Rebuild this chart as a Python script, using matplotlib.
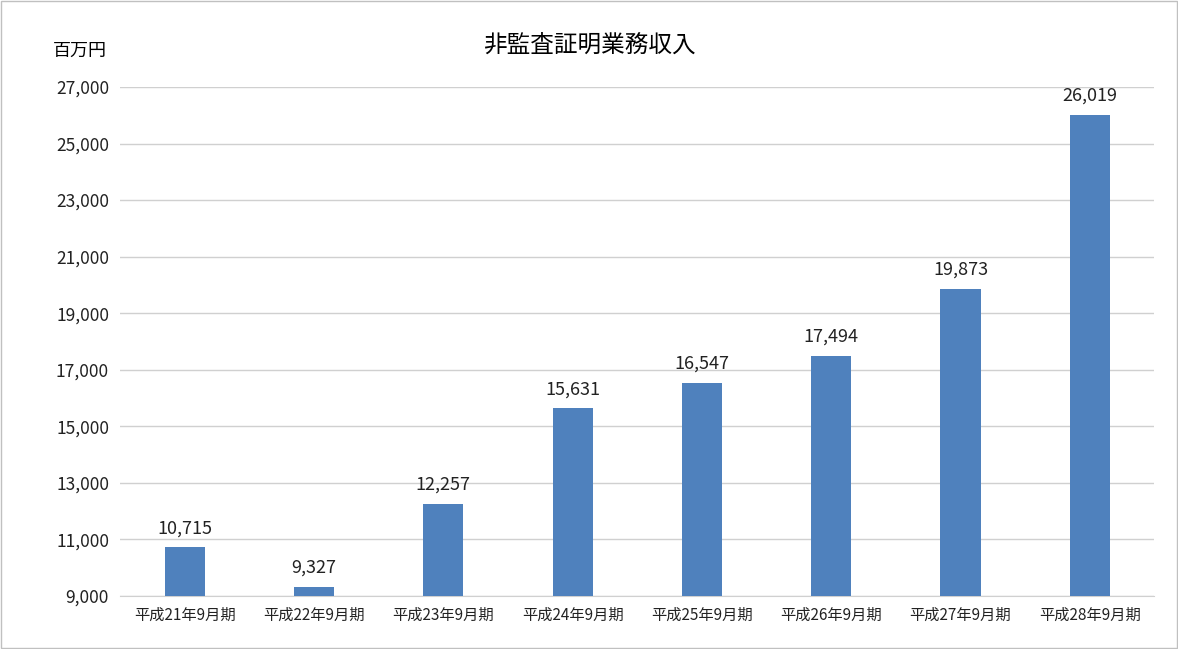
import matplotlib
matplotlib.use("Agg")
import matplotlib.pyplot as plt
from matplotlib.patches import Rectangle

plt.rcParams['font.family'] = ['Noto Sans CJK JP', 'DejaVu Sans']

categories = ["平成21年9月期", "平成22年9月期", "平成23年9月期", "平成24年9月期",
              "平成25年9月期", "平成26年9月期", "平成27年9月期", "平成28年9月期"]
values = [10715, 9327, 12257, 15631, 16547, 17494, 19873, 26019]
yticks = list(range(9000, 27001, 2000))

fig = plt.figure(figsize=(11.78, 6.49), dpi=100)
ax = fig.add_axes([0.102, 0.0817, 0.878, 0.7843])
x = range(len(categories))
ax.bar(x, values, width=0.31, color="#4F81BD", zorder=3)
for xi, v in zip(x, values):
    ax.text(xi, v + 350, f"{v:,}", ha="center", va="bottom", fontsize=13, color="#222222")
ax.set_ylim(9000, 27000)
ax.set_xlim(-0.5, len(categories) - 0.5)
ax.set_yticks(yticks)
ax.set_yticklabels([f"{t:,}" for t in yticks], fontsize=12.5)
ax.set_xticks(list(x))
ax.set_xticklabels(categories, fontsize=11)
ax.grid(axis="y", color="#d0d0d0", linewidth=1, zorder=0)
for s in ["top", "right", "left"]:
    ax.spines[s].set_visible(False)
ax.spines["bottom"].set_color("#d0d0d0")
ax.tick_params(length=0, pad=8, colors="#222222")
fig.text(0.5, 0.93, "非監査証明業務収入", ha="center", va="center", fontsize=17)
fig.text(0.068, 0.922, "百万円", ha="center", va="center", fontsize=13)
fig.patches.append(Rectangle((0.001, 0.001), 0.998, 0.997, transform=fig.transFigure,
                             fill=False, edgecolor="#c0c0c0", linewidth=1))
fig.savefig("out.png", dpi=100)
